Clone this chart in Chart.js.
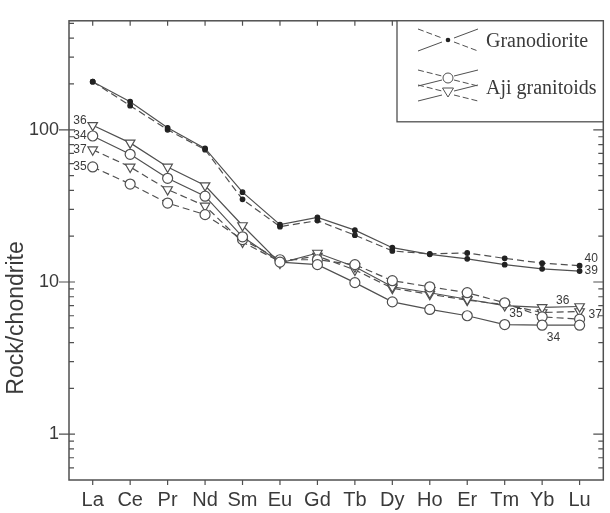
<!DOCTYPE html>
<html lang="en">
<head>
  <meta charset="UTF-8" />
  <title>Chondrite-normalized REE pattern</title>
  <script src="https://cdn.jsdelivr.net/npm/chart.js"></script>
  <style>
    body {
      margin: 0;
      background: #ffffff;
    }
    #wrap {
      width: 610px;
      height: 513px;
    }
  </style>
</head>
<body>
  <div id="wrap"><canvas id="reeChart" width="610" height="513"></canvas></div>

  <script>
    // REE, chondrite-normalized
    const elements = ['La', 'Ce', 'Pr', 'Nd', 'Sm', 'Eu', 'Gd', 'Tb', 'Dy', 'Ho', 'Er', 'Tm', 'Yb', 'Lu'];

    // Granodiorite samples
    const gd39 = [207, 153, 103, 75.5, 38.9, 23.8, 26.6, 21.9, 16.8, 15.2, 14.2, 13.0, 12.2, 11.8];
    const gd40 = [207, 144, 100, 74, 34.9, 23.1, 25.3, 20.3, 16.0, 15.3, 15.5, 14.3, 13.3, 12.8];

    // Aji granitoids
    const aji34 = [91, 69, 48, 36.6, 19.8, 13.5, 13.0, 9.9, 7.4, 6.6, 6.0, 5.25, 5.2, 5.2];
    const aji35 = [57, 44, 33, 27.7, 19.0, 14.0, 14.0, 13.0, 10.2, 9.3, 8.5, 7.3, 5.9, 5.7];
    const aji36 = [107, 82, 57, 43, 23.5, 13.3, 15.5, 12.6, 9.3, 8.5, 7.7, 7.0, 6.8, 6.9];
    const aji37 = [74, 57, 40.5, 31.6, 18.3, 13.6, 14.8, 12.0, 9.1, 8.3, 7.6, 7.1, 6.3, 6.4];

    const yTickLabels = [1, 10, 100];
    const yMinorTicks = [0.6, 0.7, 0.8, 0.9, 2, 3, 4, 5, 6, 7, 8, 9, 20, 30, 40, 50, 60, 70, 80, 90, 200, 300, 400, 500];

    const lineCol = '#505050';
    const textCol = '#3a3a3a';

    const toPts = arr => arr.map((v, i) => ({ x: i, y: v }));

    // sample number labels, anchored at a data point
    const sampleLabels = [
      { text: '36', i: 0, v: aji36[0], dx: -6, dy: -5, align: 'right' },
      { text: '34', i: 0, v: aji34[0], dx: -6, dy: 0, align: 'right' },
      { text: '37', i: 0, v: aji37[0], dx: -6, dy: 0, align: 'right' },
      { text: '35', i: 0, v: aji35[0], dx: -6, dy: 0, align: 'right' },
      { text: '40', i: 13, v: gd40[13], dx: 5, dy: -7, align: 'left' },
      { text: '39', i: 13, v: gd39[13], dx: 5, dy: 0, align: 'left' },
      { text: '36', i: 12.55, v: aji36[13], dx: 0, dy: -6, align: 'center' },
      { text: '35', i: 11.3, v: aji35[11], dx: 0, dy: 11, align: 'center' },
      { text: '37', i: 13, v: aji37[13], dx: 9, dy: 3, align: 'left' },
      { text: '34', i: 12.3, v: aji34[12], dx: 0, dy: 12, align: 'center' }
    ];

    const framePlugin = {
      id: 'frame',
      afterDraw(chart) {
        const { ctx, chartArea: a, scales } = chart;
        const xs = scales.x, ys = scales.y;
        ctx.save();
        ctx.strokeStyle = lineCol;
        ctx.lineWidth = 1.5;
        ctx.strokeRect(a.left, a.top, a.right - a.left, a.bottom - a.top);

        ctx.lineWidth = 1.2;
        ctx.beginPath();
        elements.forEach((e, i) => {
          const px = xs.getPixelForValue(i);
          ctx.moveTo(px, a.top); ctx.lineTo(px, a.top + 5);
          ctx.moveTo(px, a.bottom); ctx.lineTo(px, a.bottom + 5);
        });
        yMinorTicks.forEach(v => {
          const py = ys.getPixelForValue(v);
          ctx.moveTo(a.left, py); ctx.lineTo(a.left + 5, py);
          ctx.moveTo(a.right, py); ctx.lineTo(a.right - 5, py);
        });
        yTickLabels.forEach(v => {
          const py = ys.getPixelForValue(v);
          ctx.moveTo(a.left - 10, py); ctx.lineTo(a.left + 6, py);
          ctx.moveTo(a.right, py); ctx.lineTo(a.right - 10, py);
        });
        ctx.stroke();

        // y title
        ctx.fillStyle = textCol;
        ctx.font = '23px "Liberation Sans", Arial, sans-serif';
        ctx.textAlign = 'center';
        ctx.textBaseline = 'middle';
        ctx.translate(17, 318);
        ctx.rotate(-Math.PI / 2);
        ctx.fillText('Rock/chondrite', 0, 0);
        ctx.setTransform(1, 0, 0, 1, 0, 0);

        // sample numbers
        ctx.font = '12px "Liberation Sans", Arial, sans-serif';
        sampleLabels.forEach(l => {
          ctx.textAlign = l.align;
          ctx.fillText(l.text, xs.getPixelForValue(l.i) + l.dx, ys.getPixelForValue(l.v) + l.dy);
        });

        // legend box
        const bx = 397, by = a.top, bw = a.right - bx, bh = 101;
        ctx.fillStyle = '#ffffff';
        ctx.fillRect(bx, by, bw, bh);
        ctx.strokeStyle = lineCol;
        ctx.lineWidth = 1.3;
        ctx.strokeRect(bx, by, bw, bh);

        const cx = 448;
        const cross = (cy, h) => {
          ctx.lineWidth = 1;
          ctx.setLineDash([]);
          ctx.beginPath();
          ctx.moveTo(cx - 30, cy + h); ctx.lineTo(cx - 6, cy + 2);
          ctx.moveTo(cx + 6, cy - 2); ctx.lineTo(cx + 30, cy - h);
          ctx.stroke();
          ctx.setLineDash([6, 3]);
          ctx.beginPath();
          ctx.moveTo(cx - 30, cy - h); ctx.lineTo(cx - 6, cy - 2);
          ctx.moveTo(cx + 6, cy + 2); ctx.lineTo(cx + 30, cy + h);
          ctx.stroke();
          ctx.setLineDash([]);
        };
        cross(40, 11);
        ctx.fillStyle = '#222';
        ctx.beginPath(); ctx.arc(cx, 40, 2.3, 0, Math.PI * 2); ctx.fill();

        cross(78, 8);
        cross(93, 8);
        ctx.fillStyle = '#fff';
        ctx.beginPath(); ctx.arc(cx, 78, 5, 0, Math.PI * 2); ctx.fill(); ctx.stroke();
        ctx.beginPath();
        ctx.moveTo(cx - 5.5, 88); ctx.lineTo(cx + 5.5, 88); ctx.lineTo(cx, 97); ctx.closePath();
        ctx.fill(); ctx.stroke();

        ctx.fillStyle = textCol;
        ctx.font = '20px "Liberation Serif", "Times New Roman", serif';
        ctx.textAlign = 'left';
        ctx.textBaseline = 'alphabetic';
        ctx.fillText('Granodiorite', 486, 47);
        ctx.fillText('Aji granitoids', 486, 94);
        ctx.restore();
      }
    };

    const lineSet = (label, arr, dashed, style) => Object.assign({
      label: label,
      data: toPts(arr),
      borderColor: lineCol,
      borderWidth: 1.2,
      borderDash: dashed ? [7, 4] : [],
      pointBorderColor: lineCol,
      pointBorderWidth: 1.2,
      pointBackgroundColor: '#ffffff',
      tension: 0
    }, style);

    const dot = { pointStyle: 'circle', pointRadius: 2.3, pointBackgroundColor: '#222', pointBorderColor: '#222' };
    const ring = { pointStyle: 'circle', pointRadius: 5 };
    const tri = { pointStyle: 'triangle', pointRadius: 5.5, pointRotation: 180 };

    new Chart(document.getElementById('reeChart'), {
      type: 'line',
      data: {
        datasets: [
          lineSet('39', gd39, false, dot),
          lineSet('40', gd40, true, dot),
          lineSet('34', aji34, false, ring),
          lineSet('35', aji35, true, ring),
          lineSet('36', aji36, false, tri),
          lineSet('37', aji37, true, tri)
        ]
      },
      options: {
        responsive: false,
        animation: false,
        layout: { padding: { top: 10, right: 0, left: 0, bottom: 0 } },
        plugins: {
          legend: { display: false },
          tooltip: { enabled: false }
        },
        scales: {
          x: {
            type: 'linear',
            min: -0.633,
            max: 13.633,
            afterBuildTicks: s => { s.ticks = elements.map((e, i) => ({ value: i })); },
            afterFit: s => { s.height = 33; },
            grid: { display: false, drawTicks: false },
            border: { display: false },
            ticks: {
              autoSkip: false,
              maxRotation: 0,
              padding: 8,
              color: textCol,
              font: { family: '"Liberation Sans", Arial, sans-serif', size: 20 },
              callback: v => elements[v]
            }
          },
          y: {
            type: 'logarithmic',
            min: 0.5,
            max: 520,
            afterBuildTicks: s => { s.ticks = yTickLabels.map(v => ({ value: v })); },
            afterFit: s => { s.width = 69; },
            grid: { display: false, drawTicks: false },
            border: { display: false },
            ticks: {
              padding: 10,
              color: textCol,
              font: { family: '"Liberation Sans", Arial, sans-serif', size: 18 },
              callback: v => String(v)
            }
          }
        }
      },
      plugins: [framePlugin]
    });
  </script>
</body>
</html>
